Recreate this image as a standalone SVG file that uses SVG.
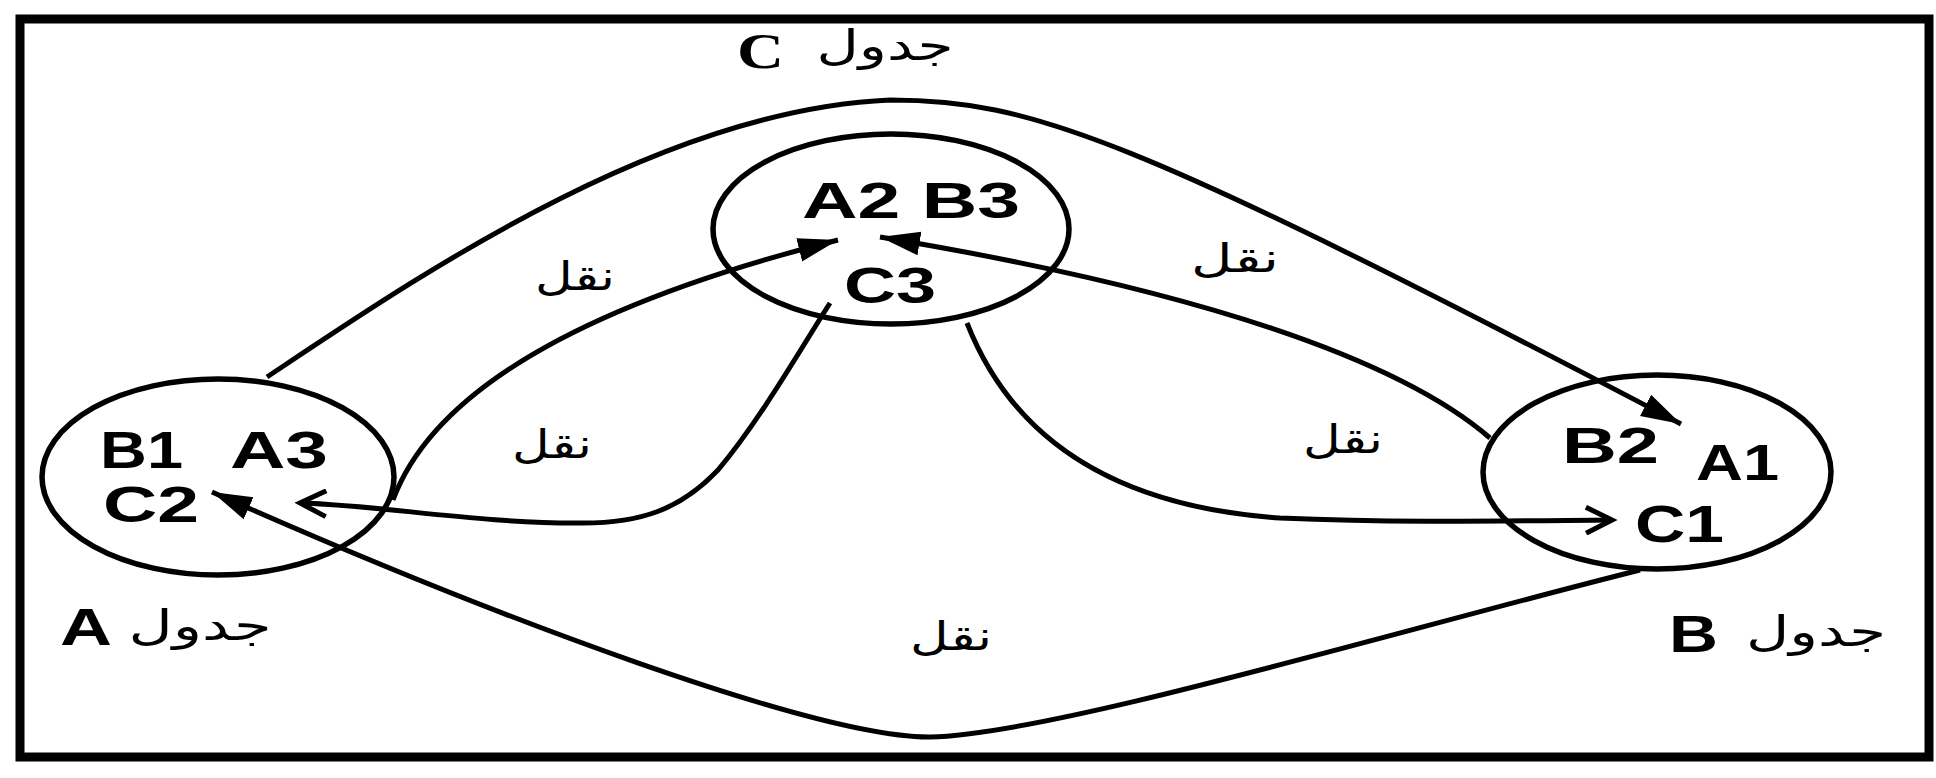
<svg xmlns="http://www.w3.org/2000/svg" width="1936" height="778" viewBox="0 0 1936 778">
<style>
.frame{fill:none;stroke:#000;stroke-width:9}
.node{fill:none;stroke:#000;stroke-width:5.5}
.edge{fill:none;stroke:#000;stroke-width:5;stroke-linejoin:round}
.t{font-family:"Liberation Sans",Arial,sans-serif;font-weight:bold;fill:#000}
.ar{font-family:"DejaVu Sans",sans-serif;font-weight:normal;fill:#000;text-anchor:middle}
.sf{font-family:"Liberation Serif","Times New Roman",serif;font-weight:bold;fill:#000}
</style>
<defs>
<marker id="fa" markerUnits="userSpaceOnUse" viewBox="0 0 44 32" markerWidth="44" markerHeight="32" refX="40" refY="16" orient="auto">
<path d="M0,4 L40,16 L0,28 Z" fill="#000"/>
</marker>
<marker id="oa" markerUnits="userSpaceOnUse" viewBox="0 0 40 30" markerWidth="40" markerHeight="30" refX="34" refY="15" orient="auto">
<path d="M8,2 L34,15 L8,28" fill="none" stroke="#000" stroke-width="5"/>
</marker>
</defs>
<rect x="0" y="0" width="1936" height="778" fill="#fff"/>
<rect class="frame" x="20" y="19" width="1909" height="738"/>

<g id="connectors">
<path class="edge" d="M267,377 C420,275 660,110 890,100 C1030,100 1130,135 1681,424" marker-end="url(#fa)"/>
<path class="edge" d="M1640,570 C1400,630 1050,735 930,737 C820,738 500,620 212,492" marker-end="url(#fa)"/>
<path class="edge" d="M393,500 C430,400 560,310 838,240" marker-end="url(#fa)"/>
<path class="edge" d="M830,303 C800,350 760,420 718,470 C680,510 640,523 583,523 C480,524 380,505 300,503" marker-end="url(#oa)"/>
<path class="edge" d="M1490,438 C1400,360 1200,290 880,237" marker-end="url(#fa)"/>
<path class="edge" d="M967,323 C1005,420 1090,505 1280,518 C1400,523 1500,521 1612,520" marker-end="url(#oa)"/>
<text class="ar" x="575" y="290" font-size="40" textLength="80" lengthAdjust="spacingAndGlyphs">نقل</text>
<text class="ar" x="552" y="458" font-size="40" textLength="80" lengthAdjust="spacingAndGlyphs">نقل</text>
<text class="ar" x="1235" y="272" font-size="40" textLength="88" lengthAdjust="spacingAndGlyphs">نقل</text>
<text class="ar" x="1343" y="453" font-size="40" textLength="80" lengthAdjust="spacingAndGlyphs">نقل</text>
<text class="ar" x="951" y="650" font-size="40" textLength="82" lengthAdjust="spacingAndGlyphs">نقل</text>
</g>

<g id="node-C">
<ellipse class="node" cx="891" cy="229" rx="178" ry="95"/>
<text class="t" x="802" y="218" font-size="50" textLength="218" lengthAdjust="spacingAndGlyphs">A2 B3</text>
<text class="t" x="844" y="303" font-size="50" textLength="92" lengthAdjust="spacingAndGlyphs">C3</text>
</g>
<g id="label-C">
<text class="sf" x="737" y="68" font-size="50" textLength="47" lengthAdjust="spacingAndGlyphs">C</text>
<text class="ar" x="885" y="60" font-size="42" textLength="137" lengthAdjust="spacingAndGlyphs">جدول</text>
</g>

<g id="node-A">
<ellipse class="node" cx="218" cy="477" rx="176" ry="98"/>
<text class="t" x="100" y="468" font-size="52" textLength="83" lengthAdjust="spacingAndGlyphs">B1</text>
<text class="t" x="230" y="468" font-size="52" textLength="98" lengthAdjust="spacingAndGlyphs">A3</text>
<text class="t" x="103" y="522" font-size="50" textLength="96" lengthAdjust="spacingAndGlyphs">C2</text>
</g>
<g id="label-A">
<text class="t" x="60" y="645" font-size="52" textLength="52" lengthAdjust="spacingAndGlyphs">A</text>
<text class="ar" x="200" y="640" font-size="42" textLength="143" lengthAdjust="spacingAndGlyphs">جدول</text>
</g>

<g id="node-B">
<ellipse class="node" cx="1657" cy="472" rx="174" ry="97"/>
<text class="t" x="1562" y="463" font-size="50" textLength="97" lengthAdjust="spacingAndGlyphs">B2</text>
<text class="t" x="1696" y="480" font-size="50" textLength="83" lengthAdjust="spacingAndGlyphs">A1</text>
<text class="t" x="1635" y="542" font-size="52" textLength="89" lengthAdjust="spacingAndGlyphs">C1</text>
</g>
<g id="label-B">
<text class="t" x="1669" y="652" font-size="52" textLength="49" lengthAdjust="spacingAndGlyphs">B</text>
<text class="ar" x="1816" y="646" font-size="42" textLength="140" lengthAdjust="spacingAndGlyphs">جدول</text>
</g>
</svg>
